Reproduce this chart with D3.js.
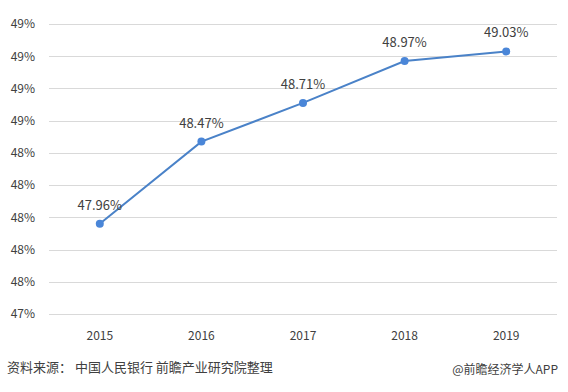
<!DOCTYPE html>
<html>
<head>
<meta charset="utf-8">
<script src="https://cdn.jsdelivr.net/npm/d3@7"></script>
<style>
  body { margin: 0; background: #fff; }
  text { font-family: "Noto Sans CJK SC", "DejaVu Sans", sans-serif; }
</style>
</head>
<body>
<script>
// data
var years = ["2015", "2016", "2017", "2018", "2019"];
var rates = [47.96, 48.47, 48.71, 48.97, 49.03];
var yTicks = [47.4, 47.6, 47.8, 48.0, 48.2, 48.4, 48.6, 48.8, 49.0, 49.2];
var sourceText = "资料来源： 中国人民银行 前瞻产业研究院整理";
var brandText = "@前瞻经济学人APP";

var width = 568, height = 392;

var svg = d3.select("body").append("svg")
    .attr("width", width)
    .attr("height", height);

var x = d3.scaleBand().domain(years).range([49, 557]);
var y = d3.scaleLinear().domain([47.4, 49.2]).range([314, 24]);

// grid lines
svg.append("g").selectAll("line")
    .data(yTicks)
    .enter().append("line")
    .attr("x1", 49).attr("x2", 557)
    .attr("y1", function(d) { return Math.round(y(d)) + 0.5; })
    .attr("y2", function(d) { return Math.round(y(d)) + 0.5; })
    .attr("stroke", "#d9d9d9")
    .attr("stroke-width", 1);

// y axis labels
var yAxis = d3.axisLeft(y).tickValues(yTicks)
    .tickFormat(function(d) { return d3.format(".0f")(d) + "%"; })
    .tickSize(0).tickPadding(14);
var gy = svg.append("g").attr("transform", "translate(49,0)").call(yAxis);
gy.select(".domain").remove();
gy.selectAll("text").attr("font-size", 12).attr("fill", "#404040")
    .attr("font-family", "\"Noto Sans CJK SC\", sans-serif");

// x axis labels
var xAxis = d3.axisBottom(x).tickSize(0).tickPadding(17);
var gx = svg.append("g").attr("transform", "translate(0,314)").call(xAxis);
gx.select(".domain").remove();
gx.selectAll("text").attr("font-size", 12).attr("fill", "#404040")
    .attr("font-family", "\"Noto Sans CJK SC\", sans-serif");

var cx = function(d, i) { return x(years[i]) + x.bandwidth() / 2; };

var line = d3.line()
    .x(function(d, i) { return cx(d, i); })
    .y(function(d) { return y(d); });

svg.append("path")
    .datum(rates)
    .attr("d", line)
    .attr("fill", "none")
    .attr("stroke", "#4a82c8")
    .attr("stroke-width", 2);

svg.append("g").selectAll("circle")
    .data(rates)
    .enter().append("circle")
    .attr("cx", cx)
    .attr("cy", function(d) { return y(d); })
    .attr("r", 4)
    .attr("fill", "#4a86d8");

svg.append("g").selectAll("text")
    .data(rates)
    .enter().append("text")
    .attr("x", cx)
    .attr("y", function(d) { return y(d) - 14; })
    .attr("text-anchor", "middle")
    .attr("font-size", 13)
    .attr("fill", "#404040")
    .text(function(d) { return d3.format(".2f")(d) + "%"; });

// footer
svg.append("text")
    .attr("x", 7).attr("y", 372)
    .attr("font-size", 13)
    .attr("fill", "#404040")
    .text(sourceText);

svg.append("text")
    .attr("x", 558).attr("y", 374)
    .attr("text-anchor", "end")
    .attr("font-size", 12)
    .attr("fill", "#404040")
    .text(brandText);
</script>
</body>
</html>
